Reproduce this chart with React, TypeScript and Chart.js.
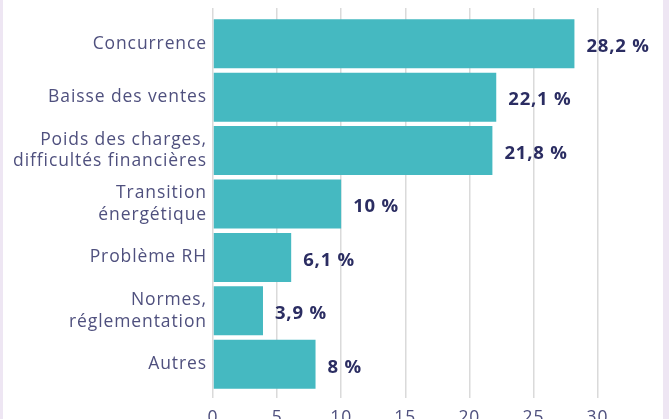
import React, { useEffect, useRef } from "react";
import { Chart, registerables } from "chart.js";

Chart.register(...registerables);

const categories: (string | string[])[] = [
  "Concurrence",
  "Baisse des ventes",
  ["Poids des charges,", "difficultés financières"],
  ["Transition", "énergétique"],
  "Problème RH",
  ["Normes,", "réglementation"],
  "Autres",
];
const values = [28.2, 22.1, 21.8, 10, 6.1, 3.9, 8];
const valueLabels = ["28,2 %", "22,1 %", "21,8 %", "10 %", "6,1 %", "3,9 %", "8 %"];
const xTicks = [0, 5, 10, 15, 20, 25, 30];

const BAR = "#45B9C1";
const LABEL = "#2B2D62";
const TEXT = "#4F507E";
const GRID = "#DADADA";
const STRIP = "#EEE6F3";
const FONT = "'Open Sans'";

const spacingPlugin = {
  id: "spacing",
  beforeDraw(chart: any) {
    chart.ctx.letterSpacing = "0.9px";
  },
};

const valueLabelPlugin = {
  id: "valueLabels",
  afterDatasetsDraw(chart: any) {
    const ctx = chart.ctx;
    const meta = chart.getDatasetMeta(0);
    ctx.save();
    ctx.letterSpacing = "0.8px";
    ctx.font = `bold 18.5px ${FONT}`;
    ctx.fillStyle = LABEL;
    ctx.textAlign = "left";
    ctx.textBaseline = "middle";
    meta.data.forEach((el: any, i: number) => {
      ctx.fillText(valueLabels[i], el.x + 12, el.y + 3);
    });
    ctx.restore();
  },
};

export default function App() {
  const ref = useRef<HTMLCanvasElement>(null);
  useEffect(() => {
    if (!ref.current) return;
    const chart = new Chart(ref.current, {
      type: "bar",
      data: {
        labels: categories,
        datasets: [
          {
            data: values,
            backgroundColor: BAR,
            borderWidth: 0,
            barPercentage: 0.917,
            categoryPercentage: 1,
            xAxisID: "x",
          },
        ],
      },
      options: {
        indexAxis: "y",
        animation: false,
        responsive: false,
        maintainAspectRatio: false,
        layout: { padding: { top: 8, right: 71.5, bottom: 0, left: 0 } },
        plugins: { legend: { display: false }, tooltip: { enabled: false } },
        scales: {
          x: {
            position: "bottom",
            min: 0,
            max: 30,
            afterBuildTicks: (s: any) => {
              s.ticks = xTicks.map((v) => ({ value: v }));
            },
            grid: { color: GRID, lineWidth: 1.5, tickLength: 7 },
            border: { display: false },
            ticks: {
              color: TEXT,
              padding: 10,
              font: { family: FONT, size: 17.5 },
            },
            afterFit: (s: any) => {
              s.height = 49;
            },
          },
          xTop: {
            position: "top",
            min: 0,
            max: 30,
            afterBuildTicks: (s: any) => {
              s.ticks = xTicks.map((v) => ({ value: v }));
            },
            grid: { color: GRID, lineWidth: 1.5, tickLength: 9, drawOnChartArea: false },
            border: { display: false },
            ticks: { display: false },
            afterFit: (s: any) => {
              s.height = 9;
            },
          },
          y: {
            grid: { display: false, drawTicks: false, tickLength: 0 },
            border: { display: false },
            ticks: {
              color: TEXT,
              padding: 6,
              font: { family: FONT, size: 17.5, lineHeight: 1.24 },
            },
            afterFit: (s: any) => {
              s.width = 213;
            },
          },
        },
      },
      plugins: [spacingPlugin, valueLabelPlugin],
    });
    return () => chart.destroy();
  }, []);

  return (
    <div
      style={{
        position: "fixed",
        left: 0,
        top: 0,
        width: 669,
        height: 419,
        overflow: "hidden",
        background: "#ffffff",
      }}
    >
      <canvas ref={ref} width={669} height={440} style={{ display: "block" }} />
      <div style={{ position: "absolute", left: 0, top: 0, width: 3, height: 419, background: STRIP }} />
      <div style={{ position: "absolute", left: 663, top: 0, width: 6, height: 419, background: STRIP }} />
    </div>
  );
}
